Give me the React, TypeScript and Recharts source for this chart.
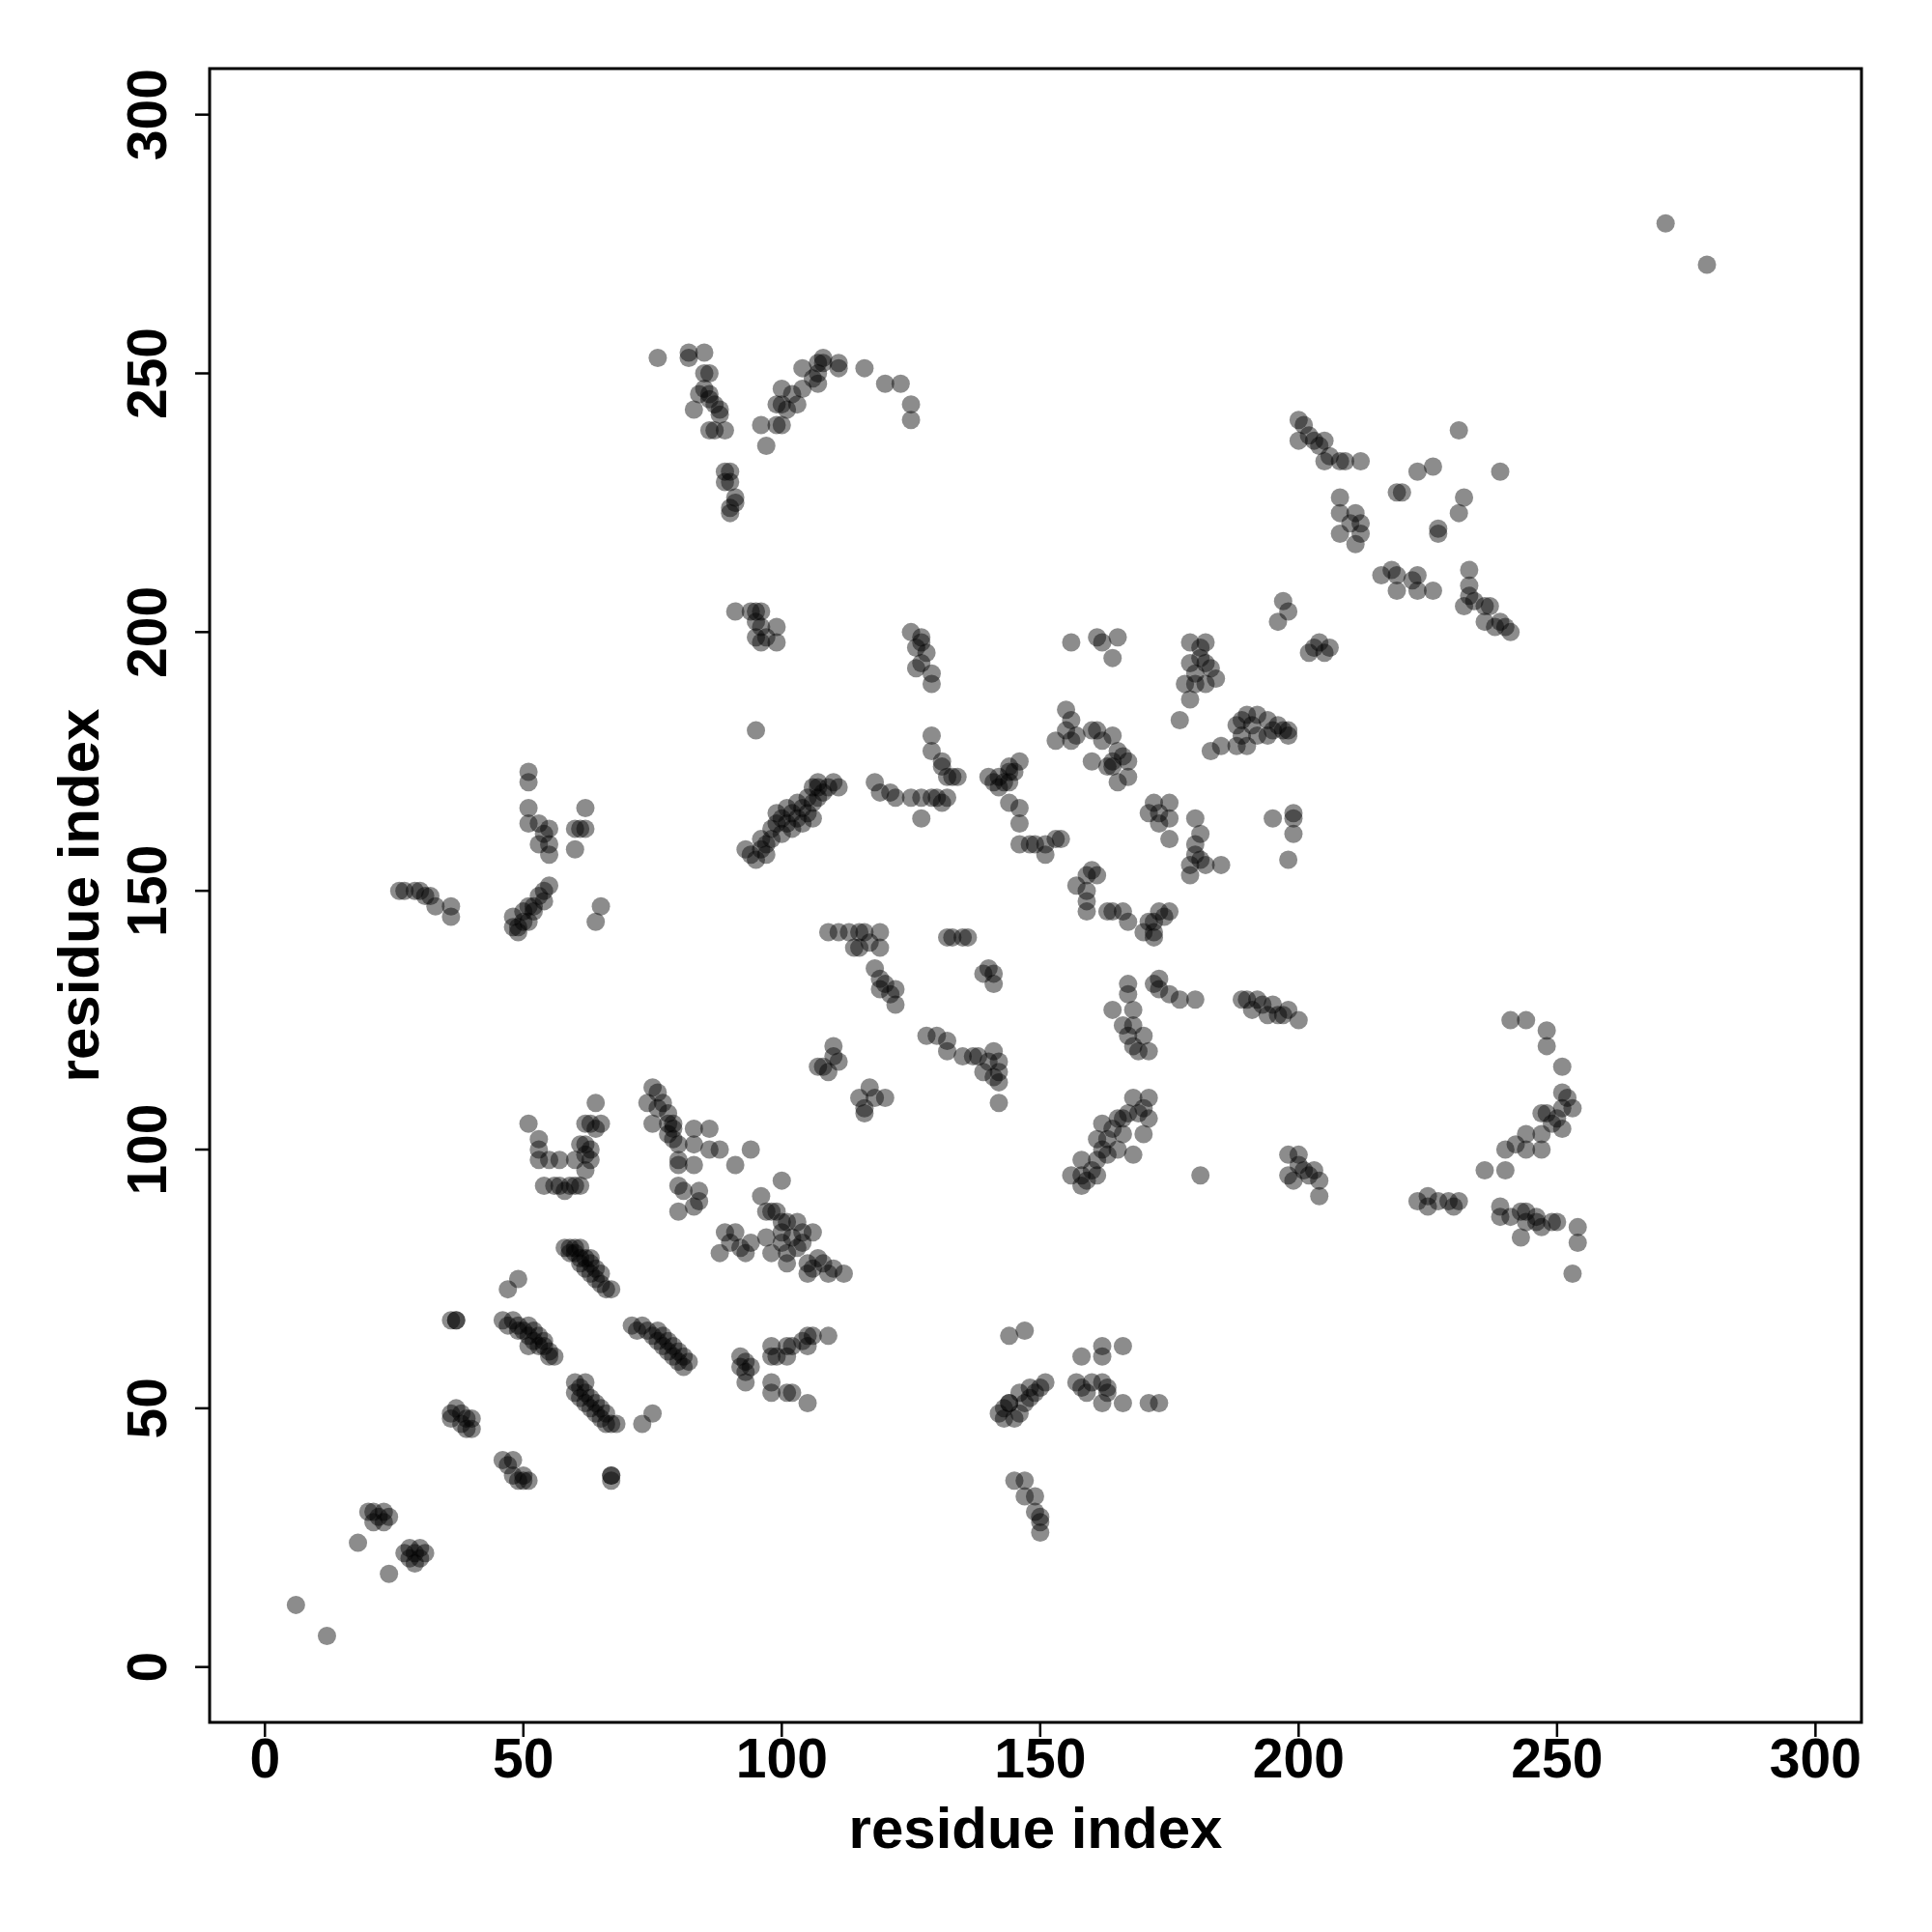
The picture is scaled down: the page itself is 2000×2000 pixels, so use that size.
import React from "react";
import { ScatterChart, Scatter, XAxis, YAxis, ReferenceArea, Label } from "recharts";

// contact pairs [i, j], grouped by region
const nearDiagonal: [number, number][] = [
  [6, 12], [12, 6], [18, 24], [20, 30], [21, 30], [22, 29], [23, 30], [21, 28], [23, 28], [24, 29], [24, 18],
  [27, 22], [28, 23], [30, 23], [28, 21], [29, 22], [30, 21], [29, 20], [31, 22],
  [36, 67], [37, 67], [37, 67],
  [36, 49], [37, 50], [38, 49], [36, 48], [38, 47], [39, 46], [40, 46], [40, 48], [39, 48],
  [46, 40], [47, 39], [48, 40], [48, 37], [49, 36], [50, 36], [50, 37], [51, 36],
  [47, 73], [49, 75],
];

const lowerSheets: [number, number][] = [
  [46, 67], [47, 66], [48, 67], [49, 66], [50, 65], [51, 64], [52, 65], [52, 63], [53, 62], [54, 62], [55, 61], [56, 60], [53, 64], [51, 62], [49, 65], [51, 66], [54, 63], [55, 60],
  [58, 81], [59, 81], [59, 80], [60, 80], [61, 79], [61, 78], [62, 79], [62, 77], [63, 76], [64, 77], [64, 75], [65, 74], [66, 73], [67, 73], [61, 81], [63, 79], [60, 81], [65, 76], [63, 78],
  [60, 55], [60, 53], [61, 54], [61, 52], [62, 51], [63, 52], [63, 50], [64, 49], [65, 50], [65, 48], [66, 47], [67, 47], [62, 55], [62, 53], [64, 51], [66, 49], [68, 47],
  [67, 37], [67, 37], [67, 36], [73, 47], [75, 49],
  [71, 66], [72, 65], [73, 66], [74, 65], [75, 64], [76, 63], [77, 64], [77, 62], [78, 61], [79, 62], [79, 60], [80, 59], [81, 60], [81, 58], [78, 63], [80, 61], [82, 59], [76, 65],
  [92, 60], [93, 59], [92, 58], [93, 57], [94, 58], [93, 55],
  [98, 62], [98, 60], [99, 60], [101, 62], [101, 60], [102, 62], [105, 64], [105, 62], [104, 63], [106, 64], [109, 64], [98, 55], [98, 53], [101, 53], [102, 53], [105, 51],
];

const middleSheets: [number, number][] = [
  [75, 112], [76, 111], [74, 109], [76, 108], [77, 109], [78, 107], [75, 105], [78, 105], [79, 104], [79, 102], [80, 101], [80, 98], [80, 97],
  [83, 104], [86, 104], [83, 101], [86, 100], [88, 100], [91, 97], [94, 100], [83, 97], [80, 93], [81, 92], [84, 92], [84, 90], [80, 88], [83, 89], [79, 105], [78, 103],
  [88, 80], [89, 84], [91, 84], [92, 81], [93, 80], [90, 82], [94, 82],
  [96, 91], [97, 88], [98, 88], [100, 86], [100, 84], [100, 82], [101, 86], [103, 86], [104, 84], [104, 82], [103, 81], [101, 80], [98, 80], [97, 83],
  [101, 78], [105, 78], [108, 78], [109, 76], [112, 76], [105, 76], [106, 77], [110, 77], [107, 79], [106, 84], [100, 94], [99, 88], [102, 83],
  [51, 105], [53, 102], [53, 100], [53, 98], [55, 98], [57, 98], [54, 93], [56, 93], [57, 93], [58, 92], [59, 93], [60, 93], [61, 93],
  [60, 98], [61, 101], [62, 101], [62, 99], [63, 98], [63, 100], [62, 105], [63, 105], [64, 104], [65, 105], [64, 109], [62, 96],
];

const leftUpper: [number, number][] = [
  [26, 150], [27, 150], [29, 150], [30, 150], [31, 149], [32, 149], [33, 147], [36, 147], [36, 145],
  [51, 173], [51, 171], [51, 166], [51, 163], [53, 163], [55, 162], [55, 159], [55, 157], [53, 159], [60, 158], [60, 162], [62, 166], [62, 162], [61, 162], [54, 161],
  [55, 151], [54, 150], [53, 149], [52, 147], [51, 147], [50, 146], [51, 144], [48, 145], [48, 143], [49, 142], [50, 144], [49, 143], [52, 146], [54, 148],
  [65, 147], [64, 144],
];

const topArcs: [number, number][] = [
  [76, 253], [82, 254], [82, 253], [85, 254], [85, 250], [86, 250], [86, 246], [85, 247], [84, 246], [83, 243], [86, 245], [87, 244], [88, 243], [88, 242],
  [89, 239], [86, 239], [87, 239], [89, 231], [90, 231], [89, 229], [90, 229], [91, 226], [90, 224], [91, 225], [90, 223],
  [96, 240], [97, 236], [99, 240], [100, 240], [99, 244], [100, 244], [103, 244], [100, 247], [102, 246], [104, 251], [104, 247], [107, 248], [106, 249],
  [107, 250], [107, 252], [108, 253], [108, 252], [111, 252], [111, 251], [116, 251], [120, 248], [123, 248], [125, 244], [125, 241], [101, 243],
  [91, 204], [94, 204], [95, 204], [96, 204], [95, 202], [96, 201], [95, 199], [96, 198], [97, 199], [99, 198], [99, 201], [95, 181],
];

const centralHelices: [number, number][] = [
  [93, 158], [94, 157], [95, 156], [96, 158], [96, 160], [97, 159], [98, 160], [98, 162], [99, 163], [100, 164], [101, 163], [101, 166], [102, 165],
  [103, 164], [103, 167], [104, 166], [105, 165], [105, 168], [106, 167], [107, 170], [107, 168], [108, 169], [109, 170], [110, 171], [111, 170],
  [100, 161], [102, 162], [104, 163], [106, 164], [99, 165], [97, 157], [106, 170], [107, 171],
  [125, 200], [127, 199], [126, 197], [128, 196], [127, 194], [126, 193], [129, 192], [129, 190], [127, 198],
  [129, 180], [129, 177], [131, 175], [133, 172], [132, 172], [134, 172], [131, 174],
  [118, 171], [119, 169], [121, 169], [122, 168], [125, 168], [127, 168], [129, 168], [130, 168], [131, 167], [132, 168], [127, 164],
  [140, 172], [141, 171], [142, 172], [143, 171], [144, 173], [145, 173], [146, 175], [144, 174], [142, 170], [144, 171],
  [144, 167], [146, 166], [146, 163], [146, 159], [148, 159], [149, 159], [151, 157], [151, 159], [153, 160], [154, 160],
  [155, 185], [156, 183], [155, 181], [153, 179], [156, 179], [157, 180], [160, 181], [161, 181], [162, 179], [164, 180],
  [165, 177], [164, 175], [160, 175], [164, 174], [167, 175], [167, 172], [165, 171], [163, 174], [166, 176],
  [156, 198], [161, 199], [162, 198], [165, 199], [164, 195],
  [157, 151], [159, 153], [160, 154], [159, 150], [159, 148], [159, 146], [163, 146], [164, 146], [166, 146], [167, 144],
  [171, 144], [175, 146], [172, 141], [170, 142], [172, 142], [173, 146], [174, 145], [172, 144], [161, 153],
  [172, 167], [175, 167], [175, 164], [173, 163], [175, 160], [171, 165], [173, 165],
  [180, 164], [181, 161], [180, 159], [179, 155], [181, 156], [185, 155], [179, 153], [182, 155], [180, 157],
  [179, 198], [182, 198], [181, 195], [179, 194], [182, 194], [182, 190], [184, 191], [180, 190], [178, 190], [179, 187],
  [177, 183], [183, 177], [185, 178], [188, 178], [189, 183], [180, 192], [183, 193], [181, 197],
  [188, 182], [190, 184], [192, 184], [194, 183], [196, 182], [197, 181], [198, 181], [194, 180], [190, 178], [192, 180], [189, 180], [195, 181], [198, 180], [191, 182],
  [195, 164], [199, 165], [199, 164], [199, 161], [198, 156],
  [197, 206], [198, 204], [196, 202], [202, 196], [203, 197], [204, 198], [206, 197], [205, 196],
];

const topRight: [number, number][] = [
  [200, 241], [201, 240], [200, 237], [202, 238], [203, 237], [205, 237], [204, 236], [205, 233], [208, 233], [209, 233], [212, 233], [206, 234],
  [208, 226], [208, 223], [211, 223], [208, 219], [212, 219], [211, 217], [210, 221], [212, 221],
  [218, 212], [219, 211], [223, 211], [216, 211], [219, 208], [223, 208], [226, 208], [222, 210],
  [220, 227], [219, 227], [223, 231], [226, 232], [227, 220], [227, 219], [231, 223], [232, 226], [231, 239], [239, 231],
  [233, 212], [233, 209], [232, 205], [236, 205], [237, 205], [234, 206], [236, 202], [238, 201], [240, 201], [241, 200], [239, 202], [233, 207],
  [271, 279], [279, 271],
];

const middleBand: [number, number][] = [
  [109, 142], [111, 142], [113, 142], [115, 142], [116, 142], [119, 142], [119, 139], [115, 139], [117, 140], [118, 135],
  [119, 133], [119, 131], [121, 130], [122, 131], [122, 128], [120, 132], [114, 139],
  [110, 120], [110, 118], [107, 116], [111, 117], [109, 115], [115, 110], [117, 112], [120, 110], [116, 107], [116, 108], [118, 110], [108, 116],
  [128, 122], [130, 122], [132, 121], [132, 119], [135, 118], [138, 118], [141, 119], [139, 115], [142, 115], [142, 113], [142, 109],
  [140, 117], [142, 117], [141, 114], [137, 118],
  [132, 141], [133, 141], [135, 141], [136, 141], [140, 135], [141, 134], [141, 132], [139, 134],
];

const rightBand: [number, number][] = [
  [167, 132], [167, 130], [168, 127], [168, 124], [167, 122], [170, 122], [169, 119], [171, 119], [164, 127], [172, 132],
  [173, 133], [175, 130], [177, 129], [180, 129], [173, 131], [166, 124], [168, 120],
  [189, 129], [190, 129], [192, 129], [191, 127], [195, 128], [196, 126], [198, 127], [200, 125], [194, 126], [193, 128], [197, 126],
  [171, 110], [171, 106], [170, 103], [168, 99], [165, 100], [162, 105], [161, 102], [165, 106], [158, 98], [158, 95], [158, 93],
  [156, 95], [161, 95], [161, 98], [163, 99], [168, 110], [166, 106], [166, 103], [164, 104], [167, 107], [169, 107], [160, 96],
  [162, 100], [163, 102], [170, 108], [159, 94],
  [181, 95],
  [198, 99], [200, 99], [198, 95], [201, 96], [203, 96], [204, 94], [204, 91], [202, 95], [199, 94], [200, 97],
  [223, 90], [225, 91], [225, 89], [227, 90], [229, 90], [231, 90], [230, 89],
  [236, 96], [240, 96], [240, 100], [244, 100], [244, 103], [247, 100], [247, 103], [248, 107], [247, 107], [251, 104], [251, 108],
  [253, 108], [251, 111], [252, 110], [251, 116], [248, 120], [248, 123], [244, 125], [241, 125], [242, 101], [250, 106], [249, 105],
  [239, 89], [239, 87], [243, 88], [243, 83], [246, 87], [244, 88], [241, 87], [246, 86], [250, 86], [249, 86], [254, 85], [254, 82], [253, 76], [244, 86], [247, 85],
];

const bottomMiddle: [number, number][] = [
  [144, 64], [147, 65],
  [142, 49], [143, 48], [144, 51], [147, 51], [146, 53], [148, 54], [151, 55], [145, 48], [144, 51], [150, 54], [149, 53], [146, 49], [148, 52], [143, 50],
  [145, 36], [147, 36], [147, 33], [149, 33], [150, 29], [150, 26], [149, 30], [150, 28],
  [158, 60], [162, 62], [162, 60], [166, 62], [157, 55], [159, 53], [162, 55], [163, 53], [162, 51], [166, 51], [171, 51], [173, 51], [158, 54], [160, 55], [163, 54],
];

const ticks = [0, 50, 100, 150, 200, 250, 300];
const domainMin = -10.7;
const domainMax = 308.9;

const contacts = [
  ...nearDiagonal, ...lowerSheets, ...middleSheets, ...leftUpper, ...topArcs,
  ...centralHelices, ...topRight, ...middleBand, ...rightBand, ...bottomMiddle,
].map(([x, y]) => ({ x, y }));

const FONT = "'Liberation Sans', Arial, Helvetica, sans-serif";

const XTick = (props: any) => {
  const { x, y, payload } = props;
  return (
    <text x={x} y={y} dy="0.71em" textAnchor="middle" fontSize={57} fontWeight="bold" fontFamily={FONT} fill="#000">
      {payload.value}
    </text>
  );
};

const YTick = (props: any) => {
  const { x, y, payload } = props;
  return (
    <text x={x} y={y} transform={`rotate(-90 ${x} ${y})`} textAnchor="middle" fontSize={57} fontWeight="bold" fontFamily={FONT} fill="#000">
      {payload.value}
    </text>
  );
};

const Dot = (props: any) => (
  <circle cx={props.cx} cy={props.cy} r={9.5} fill="#000" fillOpacity={0.45} />
);

export default function App() {
  return (
    <div style={{ position: "absolute", left: 0, top: 0, background: "#fff" }}>
      <ScatterChart width={2000} height={2000} margin={{ top: 71, right: 73, bottom: 0, left: 0 }}>
        <XAxis
          type="number"
          dataKey="x"
          domain={[domainMin, domainMax]}
          ticks={ticks}
          allowDataOverflow
          height={217}
          axisLine={false}
          tickSize={15}
          tickMargin={2}
          tickLine={{ stroke: "#000", strokeWidth: 2.5 }}
          tick={<XTick />}
        >
          <Label
            content={() => (
              <text x={1072} y={1913} textAnchor="middle" fontSize={60} fontWeight="bold" fontFamily={FONT} fill="#000">
                residue index
              </text>
            )}
          />
        </XAxis>
        <YAxis
          type="number"
          dataKey="y"
          domain={[domainMin, domainMax]}
          ticks={ticks}
          allowDataOverflow
          width={217}
          axisLine={false}
          tickSize={15}
          tickMargin={30}
          tickLine={{ stroke: "#000", strokeWidth: 2.5 }}
          tick={<YTick />}
        >
          <Label
            content={() => (
              <text x={102} y={927} transform="rotate(-90 102 927)" textAnchor="middle" fontSize={60} fontWeight="bold" fontFamily={FONT} fill="#000">
                residue index
              </text>
            )}
          />
        </YAxis>
        <ReferenceArea
          x1={domainMin}
          x2={domainMax}
          y1={domainMin}
          y2={domainMax}
          fill="none"
          fillOpacity={0}
          stroke="#000"
          strokeWidth={3}
          ifOverflow="visible"
        />
        <Scatter data={contacts} shape={<Dot />} isAnimationActive={false} />
      </ScatterChart>
    </div>
  );
}
